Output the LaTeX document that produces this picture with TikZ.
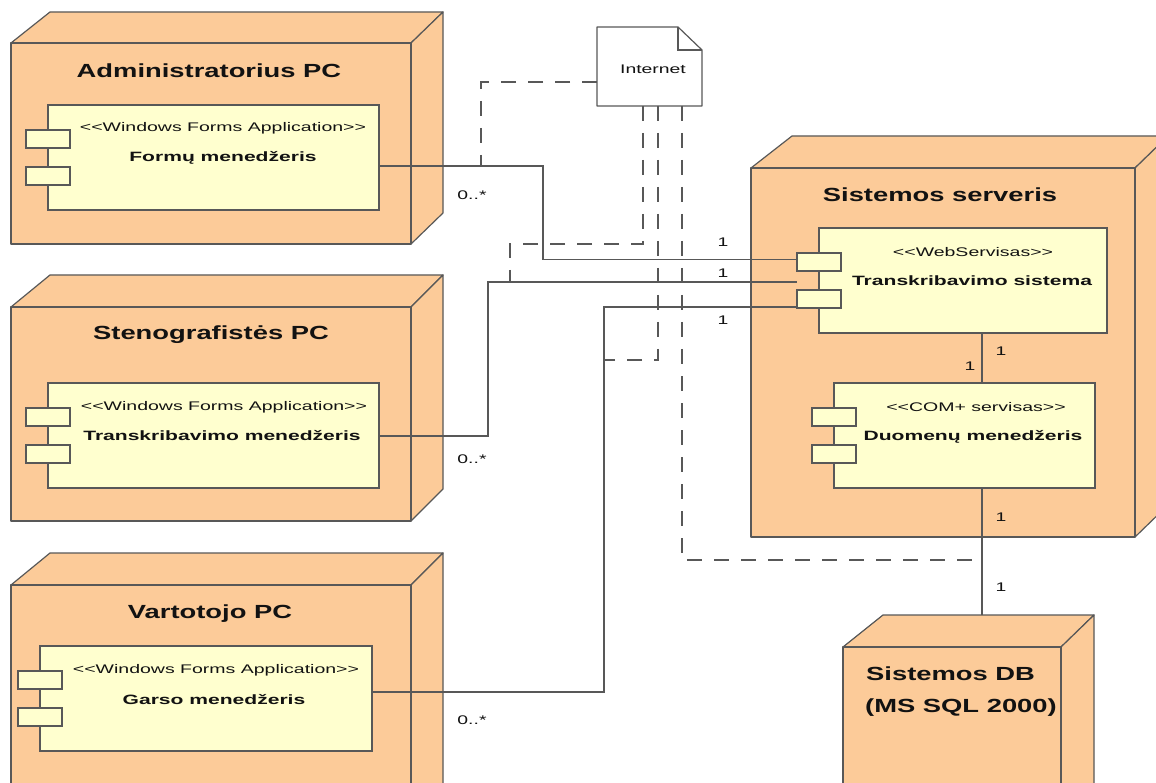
\documentclass[tikz,border=0pt]{standalone}
\usepackage{fontspec}
\usepackage{graphicx}
\setmainfont{Liberation Sans}
\usetikzlibrary{calc}

\definecolor{nodefill}{RGB}{252,203,153}
\definecolor{compfill}{RGB}{255,255,207}
\definecolor{edgegray}{RGB}{88,88,88}
\definecolor{inkgray}{RGB}{18,18,18}

% horizontally widened text, as the diagram tool sets it
\newcommand\wide[2]{\scalebox{#1}[1]{#2}}
\newcommand\stlt{<\kern0pt<}
\newcommand\stgt{>\kern0pt>}

\tikzset{
  face/.style={draw=edgegray, fill=nodefill, line width=1.2pt, line join=round},
  frontface/.style={face, inner sep=0pt, outer sep=0pt, anchor=north west},
  comp/.style={draw=edgegray, fill=compfill, line width=1.2pt, inner sep=0pt, outer sep=0pt, anchor=north west},
  portbox/.style={draw=edgegray, fill=compfill, line width=1.2pt, inner sep=0pt, outer sep=0pt,
    minimum width=44pt, minimum height=18pt},
  conn/.style={draw=edgegray, line width=1.2pt},
  linkdash/.style={draw=edgegray, line width=1.2pt, dash pattern=on 15pt off 12pt},
  nodetitle/.style={anchor=base, inner sep=0pt, font=\fontsize{19}{22}\selectfont\bfseries, text=inkgray},
  stereo/.style={anchor=base, inner sep=0pt, font=\fontsize{12.5}{15}\selectfont, text=inkgray},
  cname/.style={anchor=base, inner sep=0pt, font=\fontsize{13.5}{16}\selectfont\bfseries, text=inkgray},
  mult/.style={anchor=center, inner sep=0pt, font=\fontsize{12.5}{15}\selectfont, text=inkgray},
}

% 3D deployment node: name, front face x1 y1 x2 y2, left depth, right depth, rise
\newcommand\device[8]{%
  \draw[face] (#2,#3) -- ({#2+#6},{#3-#8}) -- ({#4+#7},{#3-#8}) -- (#4,#3) -- cycle;
  \draw[face] (#4,#3) -- ({#4+#7},{#3-#8}) -- ({#4+#7},{#5-#8}) -- (#4,#5) -- cycle;
  \node[frontface, minimum width={(#4-#2)*1pt}, minimum height={(#5-#3)*1pt}] (#1) at (#2,#3) {};
  \coordinate (#1-back) at ({#2+#6},{#3-#8});
}

% UML component with its two port boxes on the left edge
\newcommand\component[5]{%
  \node[comp, minimum width={(#4-#2)*1pt}, minimum height={(#5-#3)*1pt}] (#1) at (#2,#3) {};
  \node[portbox] (#1-p1) at (#2,{#3+34}) {};
  \node[portbox] (#1-p2) at (#2,{#3+71}) {};
}

\begin{document}
\begin{tikzpicture}[x=1pt,y=-1pt]
\useasboundingbox (0,0) rectangle (1156,783);
\fill[white] (0,0) rectangle (1156,783);
\clip (0,0) rectangle (1156,783);

% ---- deployment nodes ----
\device{admin}{11}{43}{411}{244}{39}{32}{31}
\device{steno}{11}{307}{411}{521}{39}{32}{32}
\device{user}{11}{585}{411}{820}{39}{32}{32}
\device{server}{751}{168}{1135}{537}{41}{33}{32}
\device{db}{843}{647}{1061}{820}{40}{33}{32}

\node[nodetitle] (admin-t) at (209,78) {\wide{1.44}{Administratorius PC}};
\node[nodetitle] (steno-t) at (211,340) {\wide{1.44}{Stenografistės PC}};
\node[nodetitle] (user-t) at (210,618) {\wide{1.44}{Vartotojo PC}};
\node[nodetitle] (server-t) at (940,201.5) {\wide{1.44}{Sistemos serveris}};
\node[nodetitle, anchor=base west] (db-t1) at (866,680) {\wide{1.44}{Sistemos DB}};
\node[nodetitle, anchor=base west] (db-t2) at (865,712) {\wide{1.44}{(MS SQL 2000)}};

% ---- components ----
\component{fa}{48}{105}{379}{210}
\component{fs}{48}{383}{379}{488}
\component{fv}{40}{646}{372}{751}
\component{ts}{819}{228}{1107}{333}
\component{dm}{834}{383}{1095}{488}

\node[stereo] (fa-s) at (223,132) {\wide{1.56}{\stlt Windows Forms Application\stgt}};
\node[cname] (fa-n) at (223,162) {\wide{1.56}{Formų menedžeris}};
\node[stereo] (fs-s) at (224,410) {\wide{1.56}{\stlt Windows Forms Application\stgt}};
\node[cname] (fs-n) at (222,440) {\wide{1.56}{Transkribavimo menedžeris}};
\node[stereo] (fv-s) at (216,673) {\wide{1.56}{\stlt Windows Forms Application\stgt}};
\node[cname] (fv-n) at (214,704) {\wide{1.56}{Garso menedžeris}};
\node[stereo] (ts-s) at (973,256.5) {\wide{1.56}{\stlt WebServisas\stgt}};
\node[cname] (ts-n) at (972,286) {\wide{1.56}{Transkribavimo sistema}};
\node[stereo] (dm-s) at (976,411.5) {\wide{1.56}{\stlt COM+ servisas\stgt}};
\node[cname] (dm-n) at (973,440.5) {\wide{1.56}{Duomenų menedžeris}};

% ---- Internet note ----
\node[minimum width=105pt, minimum height=79pt, inner sep=0pt, outer sep=0pt] (inet) at (649.5,66.5) {};
\draw[draw=edgegray, fill=white, line width=1.2pt, line join=round]
  (inet.south west) -- (inet.north west) -- ([xshift=-24pt]inet.north east)
  -- ([yshift=-23pt]inet.north east) -- (inet.south east) -- cycle;
\draw[draw=edgegray, line width=1.2pt] ([xshift=-24pt]inet.north east) |- ([yshift=-23pt]inet.north east);
\node[mult] (inet-t) at (653,69) {\wide{1.55}{Internet}};

% ---- bend points and taps ----
\coordinate (a-bend) at (543,259.5);
\coordinate (s-bend) at (488,282);
\coordinate (v-bend) at (604,307);
\coordinate (a-tap) at (481,166);
\coordinate (b-turn) at (643,244);
\coordinate (b-tap) at (510,282);
\coordinate (c-tap) at (604,360);
\coordinate (d-tap) at (982,560);
\coordinate (td-top) at ([xshift=19pt]ts.south);
\coordinate (dd-top) at ([xshift=17.5pt]dm.south);

% ---- communication paths ----
\draw[conn] ([yshift=-8.5pt]fa.east) -| (a-bend) -- ([yshift=2.5pt]ts-p1.west);
\draw[conn] ([yshift=-0.5pt]fs.east) -| (s-bend) -- (s-bend -| ts-p1.west);
\draw[conn] ([yshift=6.5pt]fv.east) -| (v-bend) -- ([yshift=-8pt]ts-p2.west);
\draw[conn] (td-top) -- (td-top |- dm.north);
\draw[conn] (dd-top) -- (dd-top |- db-back);

% ---- Internet links ----
\draw[linkdash] ([yshift=-15.5pt]inet.west) -| (a-tap);
\draw[linkdash] ([xshift=-6.5pt]inet.south) -- (b-turn) -| (b-tap);
\draw[linkdash] ([xshift=8.5pt]inet.south) |- (c-tap);
\draw[linkdash] ([xshift=32.5pt]inet.south) |- (d-tap);

% ---- multiplicities ----
\node[mult] (m-a) at (472,195) {\wide{1.55}{0..*}};
\node[mult] (m-s) at (472,459) {\wide{1.55}{0..*}};
\node[mult] (m-v) at (472,720) {\wide{1.55}{0..*}};
\node[mult] (m-t1) at (723,242) {\wide{1.55}{1}};
\node[mult] (m-t2) at (723,273) {\wide{1.55}{1}};
\node[mult] (m-t3) at (723,320) {\wide{1.55}{1}};
\node[mult] (m-td1) at (1001,351) {\wide{1.55}{1}};
\node[mult] (m-td2) at (970,366) {\wide{1.55}{1}};
\node[mult] (m-dd1) at (1001,517) {\wide{1.55}{1}};
\node[mult] (m-dd2) at (1001,587) {\wide{1.55}{1}};
\end{tikzpicture}
\end{document}
